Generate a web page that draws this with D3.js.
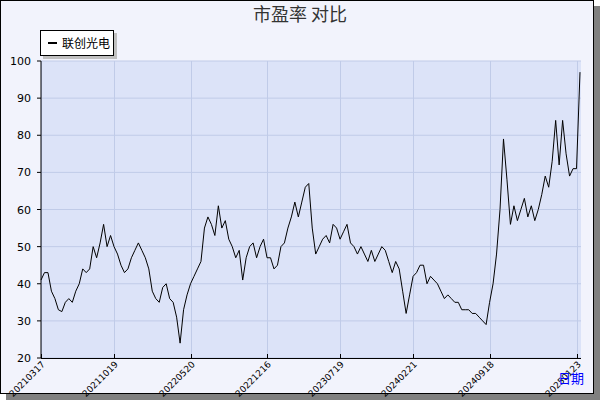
<!DOCTYPE html><html><head><meta charset="utf-8"><script src="https://cdn.jsdelivr.net/npm/d3@7"></script>
<style>body{margin:0;background:#fff}</style></head><body><svg id="c" width="600" height="400"></svg>
<script>
const values=[41,43,43,38,36,33,32.5,35,36,35,38,40,44,43,44,50,47,51,56,50,53,
50,48,45,43,44,47,49,51,49,47,44,38,36,35,39,40,36,35,31,24,33,37,
40,42,44,46,55,58,56,53,61,55,57,52,50,47,49,41,47,50,51,47,50,52,
47,47,44,45,50,51,55,58,62,58,62,66,67,55,48,50,52,53,51,56,55,
52,54,56,51,50,48,50,48,46,49,46,48,50,49,46,43,46,44,38,32,37,
42,43,45,45,40,42,41,40,38,36,37,36,35,35,33,33,33,32,32,31,30,29,
35,40,48,60,79,68,56,61,57,60,63,58,61,57,60,64,69,66,73,84,72,84,75,69,71,71,97];
const tickIdx=[0,21,43,65,86,107,129,154];
const tickLabels=["20210317","20211019","20220520","20221216","20230719","20240221","20240918","20250123"];
const yTicks=[20,30,40,50,60,70,80,90,100];
const seriesName="联创光电", title="市盈率  对比";
const svg=d3.select("#c");
svg.append("rect").attr("x",6).attr("y",6).attr("width",594).attr("height",394).attr("fill","#808080");
svg.append("rect").attr("x",0.5).attr("y",0.5).attr("width",593).attr("height",393).attr("fill","#f2f3fc").attr("stroke","#000");
const L=41,R=581,T=61,B=358;
const x=d3.scaleLinear().domain([0,values.length-1]).range([L,580]);
const y=d3.scaleLinear().domain([20,100]).range([B,T]);
svg.append("rect").attr("x",L).attr("y",T).attr("width",R-L).attr("height",B-T).attr("fill","#dce3f8");
const g=svg.append("g").attr("stroke","#c0cbe8").attr("stroke-width",1);
yTicks.forEach(v=>g.append("line").attr("x1",L).attr("x2",R).attr("y1",y(v)).attr("y2",y(v)));
tickIdx.forEach(i=>g.append("line").attr("x1",Math.round(x(i))+.5).attr("x2",Math.round(x(i))+.5).attr("y1",T).attr("y2",B));
svg.append("path").datum(values).attr("fill","none").attr("stroke","#000").attr("stroke-width",1)
 .attr("d",d3.line().x((d,i)=>x(i)).y(d=>y(d)));
svg.append("line").attr("x1",L).attr("x2",L).attr("y1",T).attr("y2",B).attr("stroke","#000");
svg.append("line").attr("x1",L).attr("x2",R).attr("y1",B+.5).attr("y2",B+.5).attr("stroke","#000");
yTicks.forEach(v=>{svg.append("line").attr("x1",L-4).attr("x2",L).attr("y1",y(v)).attr("y2",y(v)).attr("stroke","#000");
 svg.append("text").attr("x",L-10).attr("y",y(v)+4).attr("text-anchor","end").attr("font-size",11).attr("font-family","DejaVu Sans").text(v);});
tickIdx.forEach((i,k)=>{const px=Math.round(x(i))+.5;
 svg.append("line").attr("x1",px).attr("x2",px).attr("y1",B).attr("y2",B-4).attr("stroke","#000");
 svg.append("text").attr("transform",`translate(${px+4},${B+7}) rotate(-45)`).attr("text-anchor","end").attr("font-size",9).attr("font-family","DejaVu Sans").text(tickLabels[k]);});
svg.append("text").attr("x",584).attr("y",383).attr("text-anchor","end").attr("fill","#0000ff").attr("font-size",13).attr("font-family","Noto Sans CJK SC").text("日期");
svg.append("text").attr("x",300).attr("y",21).attr("text-anchor","middle").attr("fill","#333").attr("font-size",18).attr("font-family","Noto Sans CJK SC").text(title);
svg.append("rect").attr("x",43).attr("y",33).attr("width",74).attr("height",26).attr("fill","#c0c0c0");
svg.append("rect").attr("x",40.5).attr("y",30.5).attr("width",73).attr("height",25).attr("fill","#fff").attr("stroke","#000");
svg.append("line").attr("x1",48).attr("x2",57).attr("y1",43).attr("y2",43).attr("stroke","#000").attr("stroke-width",2);
svg.append("text").attr("x",62).attr("y",48).attr("font-size",12).attr("font-family","Noto Sans CJK SC").text(seriesName);
</script></body></html>
